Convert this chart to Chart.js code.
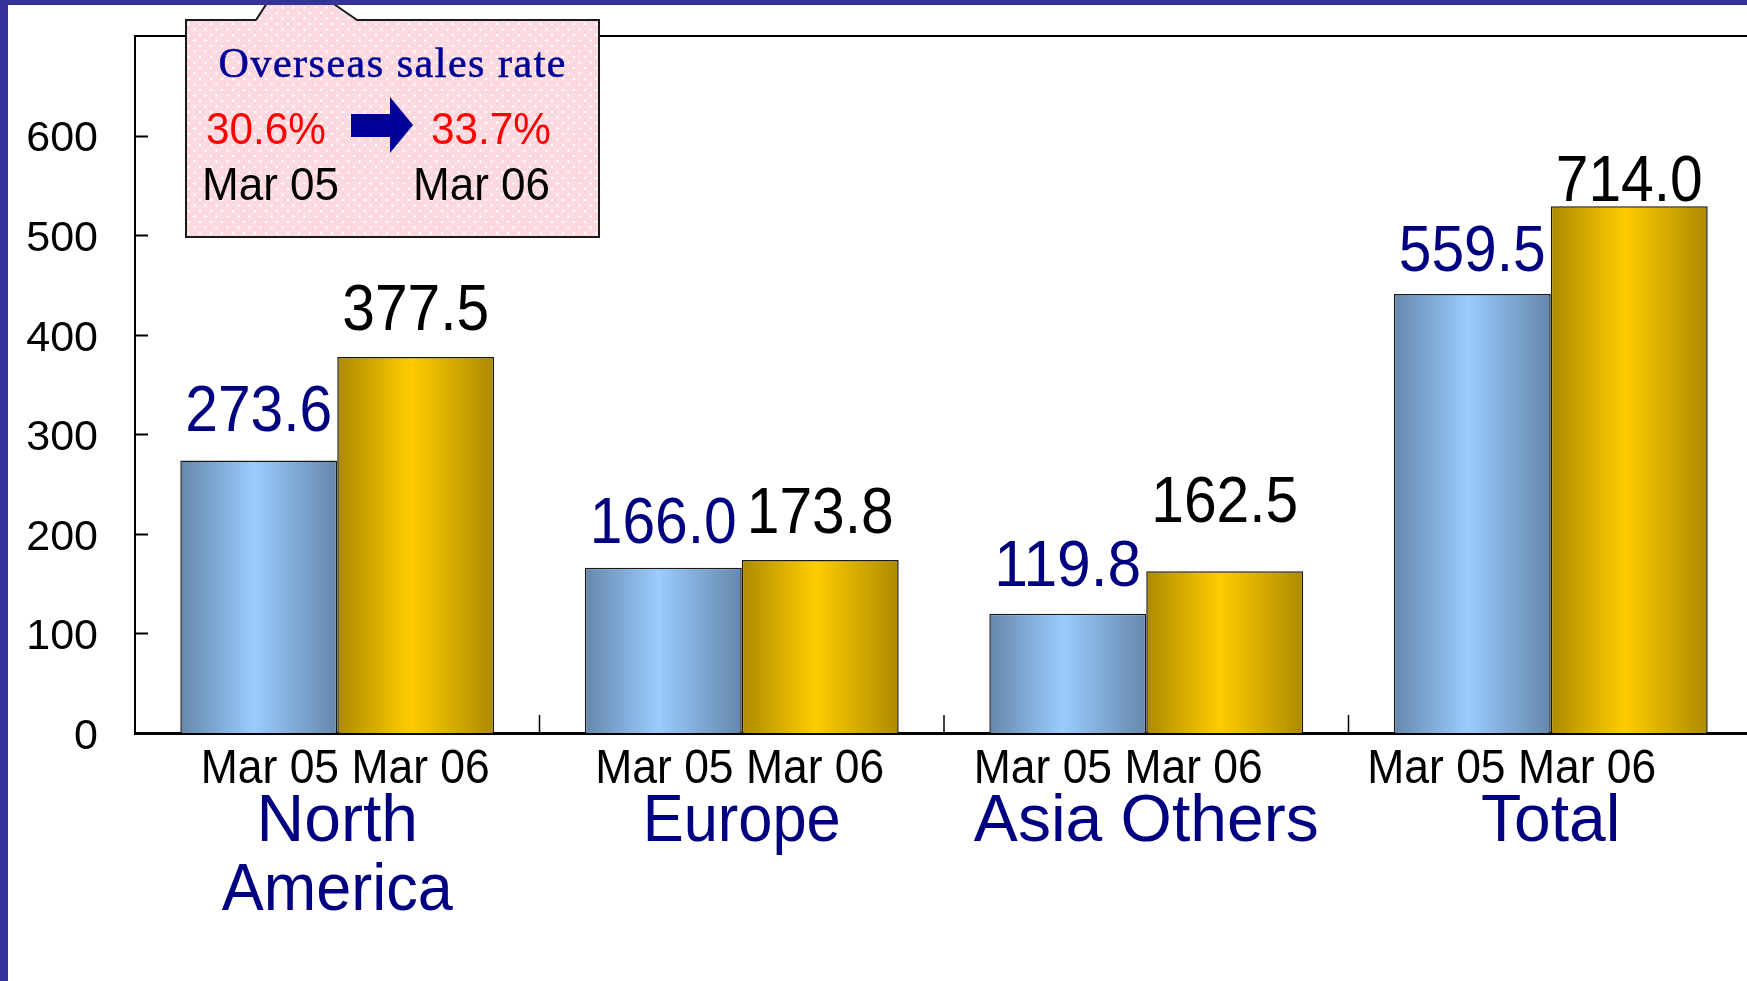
<!DOCTYPE html>
<html>
<head>
<meta charset="utf-8">
<script src="https://cdn.jsdelivr.net/npm/chart.js@4/dist/chart.umd.min.js"></script>
<style>
  html, body { margin: 0; padding: 0; background: #fff; overflow: hidden; }
  #wrap { position: relative; width: 1747px; height: 981px; overflow: hidden; }
  #salesChart { position: absolute; left: 0; top: 0; }
  #overlay { position: absolute; left: 0; top: 0; }
</style>
</head>
<body>
<div id="wrap">
  <canvas id="salesChart" width="1760" height="981"></canvas>
  <svg id="overlay" width="1747" height="981" xmlns="http://www.w3.org/2000/svg">
    <defs>
      <pattern id="dots" width="11" height="11" patternUnits="userSpaceOnUse">
        <rect width="11" height="11" fill="#fcd9de"/>
        <circle cx="2" cy="2" r="1.3" fill="#ffffff"/>
        <circle cx="7.5" cy="7.5" r="1.3" fill="#ffffff"/>
      </pattern>
    </defs>
    <!-- callout box -->
    <rect x="186" y="20" width="413" height="217" fill="url(#dots)" stroke="#1a1a1a" stroke-width="2"/>
    <polygon points="256,21 269,0 328,0 357,21" fill="url(#dots)"/>
    <polyline points="256,20 269,0" fill="none" stroke="#1a1a1a" stroke-width="2"/>
    <polyline points="357,20 328,0" fill="none" stroke="#1a1a1a" stroke-width="2"/>
    <text x="392" y="77" text-anchor="middle" font-family="Liberation Serif, Times New Roman, serif" font-size="42" fill="#000099" stroke="#000099" stroke-width="0.6" textLength="347" lengthAdjust="spacing">Overseas sales rate</text>
    <text id="rateFrom" x="206" y="144" font-family="Liberation Sans, Arial, sans-serif" font-size="45" fill="#ff0000" textLength="120" lengthAdjust="spacingAndGlyphs"></text>
    <text id="rateTo" x="431" y="144" font-family="Liberation Sans, Arial, sans-serif" font-size="45" fill="#ff0000" textLength="120" lengthAdjust="spacingAndGlyphs"></text>
    <polygon points="351,114 390,114 390,97 413,125 390,153 390,137 351,137" fill="#000099"/>
    <text id="periodFrom" x="202" y="200" font-family="Liberation Sans, Arial, sans-serif" font-size="46" fill="#000" textLength="137" lengthAdjust="spacingAndGlyphs"></text>
    <text id="periodTo" x="413" y="200" font-family="Liberation Sans, Arial, sans-serif" font-size="46" fill="#000" textLength="137" lengthAdjust="spacingAndGlyphs"></text>
    <!-- slide frame -->
    <rect x="0" y="0" width="1747" height="5" fill="#333399"/>
    <rect x="0" y="0" width="8" height="981" fill="#333399"/>
  </svg>
</div>
<script>
// Regions and the two periods
var regions = [['North', 'America'], ['Europe'], ['Asia Others'], ['Total']];
var periods = ['Mar 05', 'Mar 06'];

// Sales values printed above the bars
var salesMar05 = [273.6, 166.0, 119.8, 559.5];
var salesMar06 = [377.5, 173.8, 162.5, 714.0];

// Bar heights as drawn in the picture (Total bars are drawn shorter than their labels)
var barMar05 = [273.6, 166.0, 119.8, 441];
var barMar06 = [377.5, 173.8, 162.5, 529];

// Overseas sales rate
var overseasRate = ['30.6%', '33.7%'];

// Y axis ticks
var yTicks = [0, 100, 200, 300, 400, 500, 600];

// layout tweaks for the hand-placed labels (pixels)
var labelGap05 = [30, 25, 28, 23];
var labelGap06 = [27, 27, 49, 5];
var periodShift = [8, -2, -28, -39];

document.getElementById('rateFrom').textContent = overseasRate[0];
document.getElementById('rateTo').textContent = overseasRate[1];
document.getElementById('periodFrom').textContent = periods[0];
document.getElementById('periodTo').textContent = periods[1];

var FONT = 'Liberation Sans, Arial, sans-serif';
var CAT_PCT = 0.776;

// Horizontal "cylinder" gradient for each bar
function barGradient(dark, light, datasetIndex) {
    return function(context) {
        var chart = context.chart;
        var x = chart.scales.x;
        if (!x || context.dataIndex === undefined) return light;
        var cx = x.getPixelForValue(context.dataIndex);
        var catWidth = x.width / regions.length;
        var barWidth = catWidth * CAT_PCT / 2;
        var left = datasetIndex === 0 ? cx - barWidth : cx;
        if (!isFinite(left) || !isFinite(barWidth) || barWidth <= 0) return light;
        var grad = chart.ctx.createLinearGradient(left, 0, left + barWidth, 0);
        grad.addColorStop(0, dark);
        grad.addColorStop(0.47, light);
        grad.addColorStop(1, dark);
        return grad;
    };
}

var decorations = {
    id: 'decorations',
    afterDatasetsDraw: function(chart) {
        var ctx = chart.ctx;
        var area = chart.chartArea;
        var x = chart.scales.x;
        var y = chart.scales.y;

        ctx.save();
        ctx.strokeStyle = '#000';

        // top frame line
        ctx.lineWidth = 2;
        ctx.beginPath();
        ctx.moveTo(area.left, area.top);
        ctx.lineTo(chart.width, area.top);
        ctx.stroke();

        // inward y ticks
        ctx.lineWidth = 2;
        for (var i = 1; i < yTicks.length; i++) {
            var ty = Math.round(y.getPixelForValue(yTicks[i])) + 0.5;
            ctx.beginPath();
            ctx.moveTo(area.left, ty);
            ctx.lineTo(area.left + 13, ty);
            ctx.stroke();
        }

        // category separators on the x axis
        ctx.lineWidth = 1.5;
        for (var j = 1; j < regions.length; j++) {
            var sx = (x.getPixelForValue(j - 1) + x.getPixelForValue(j)) / 2;
            ctx.beginPath();
            ctx.moveTo(sx, area.bottom);
            ctx.lineTo(sx, area.bottom - 18);
            ctx.stroke();
        }

        // value labels
        ctx.font = '64px ' + FONT;
        ctx.textAlign = 'center';
        ctx.textBaseline = 'alphabetic';
        var sets = [
            { values: salesMar05, gaps: labelGap05, color: '#000080' },
            { values: salesMar06, gaps: labelGap06, color: '#000000' }
        ];
        for (var d = 0; d < sets.length; d++) {
            var meta = chart.getDatasetMeta(d);
            ctx.fillStyle = sets[d].color;
            for (var k = 0; k < meta.data.length; k++) {
                var el = meta.data[k];
                ctx.fillText(sets[d].values[k].toFixed(1), el.x, el.y - sets[d].gaps[k], 147);
            }
        }

        // category labels under the axis
        for (var c = 0; c < regions.length; c++) {
            var cx = x.getPixelForValue(c);
            ctx.font = '49px ' + FONT;
            ctx.fillStyle = '#000';
            ctx.fillText(periods.join(' '), cx + periodShift[c], 783, 289);
            ctx.font = '66px ' + FONT;
            ctx.fillStyle = '#000080';
            for (var ln = 0; ln < regions[c].length; ln++) {
                ctx.fillText(regions[c][ln], cx, 841 + ln * 69, regions[c][ln].length * 33);
            }
        }
        ctx.restore();
    }
};

var ctx = document.getElementById('salesChart').getContext('2d');

var salesChart = new Chart(ctx, {
    type: 'bar',
    data: {
        labels: regions,
        datasets: [{
            label: periods[0],
            data: barMar05,
            backgroundColor: barGradient('#6687ab', '#99ccff', 0),
            borderColor: '#1a1a1a',
            borderWidth: 1.5,
            borderSkipped: 'bottom'
        }, {
            label: periods[1],
            data: barMar06,
            backgroundColor: barGradient('#ad8a00', '#ffcc00', 1),
            borderColor: '#1a1a1a',
            borderWidth: 1.5,
            borderSkipped: 'bottom'
        }]
    },
    options: {
        responsive: false,
        animation: false,
        devicePixelRatio: 1,
        layout: { padding: { top: 36, right: 7, left: 0, bottom: 0 } },
        plugins: {
            legend: { display: false },
            tooltip: { enabled: false }
        },
        datasets: {
            bar: { categoryPercentage: CAT_PCT, barPercentage: 1.0 }
        },
        scales: {
            x: {
                grid: { display: false, drawTicks: false },
                border: { display: true, color: '#000', width: 3 },
                ticks: { display: false },
                afterFit: function(scale) {
                    scale.height = 248;
                    scale.paddingLeft = 0;
                    scale.paddingRight = 0;
                }
            },
            y: {
                min: 0,
                max: 700,
                grid: { display: false, drawTicks: false },
                border: { display: true, color: '#000', width: 2 },
                afterBuildTicks: function(scale) {
                    scale.ticks = yTicks.map(function(v) { return { value: v }; });
                },
                ticks: {
                    color: '#000',
                    padding: 37,
                    labelOffset: 4,
                    font: { family: FONT, size: 43 }
                },
                afterFit: function(scale) {
                    scale.width = 135;
                    scale.paddingTop = 0;
                    scale.paddingBottom = 0;
                }
            }
        }
    },
    plugins: [decorations]
});
</script>
</body>
</html>
